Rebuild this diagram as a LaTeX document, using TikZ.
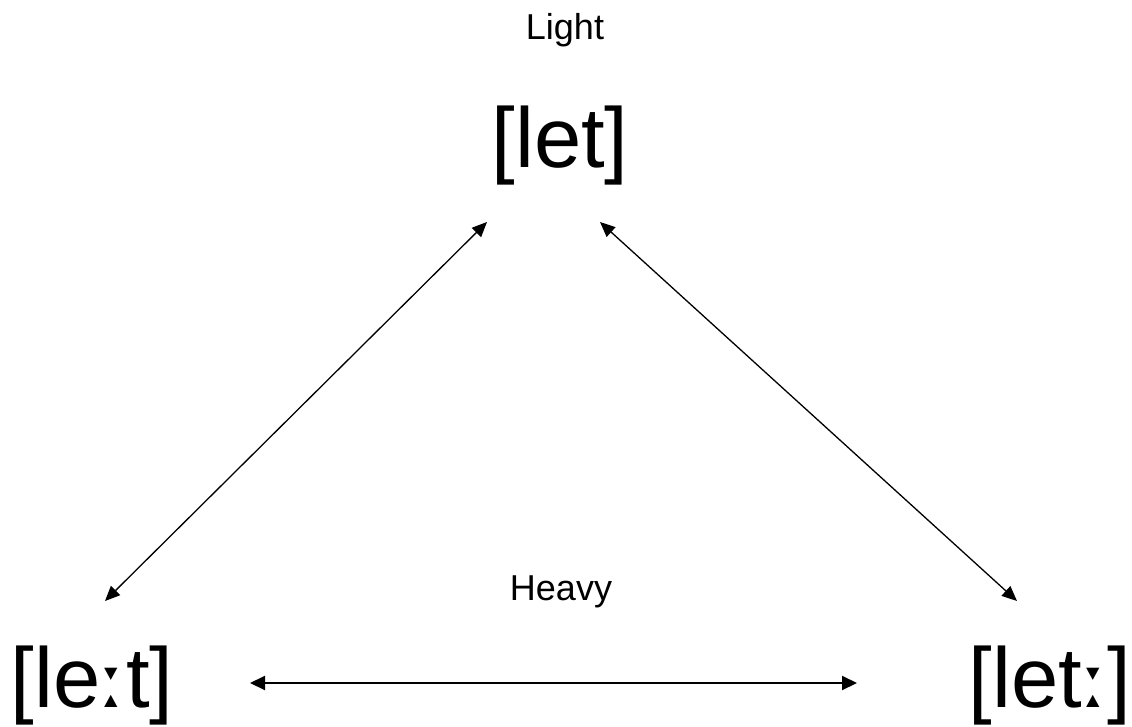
\documentclass[tikz,border=0pt]{standalone}
\usepackage{fontspec}
\setmainfont{Liberation Sans}
\newfontfamily\ipafont{DejaVu Sans}
\newcommand{\lengthmark}{{\ipafont\fontsize{76}{76}\selectfont ː}}
\usetikzlibrary{arrows.meta}
\begin{document}
\begin{tikzpicture}[x=1pt,y=-1pt,
  big/.style={font=\fontsize{85}{85}\selectfont, inner sep=0pt, anchor=base},
  small/.style={font=\fontsize{36}{36}\selectfont, inner sep=0pt, anchor=base},
  arr/.style={line width=1.3pt, {Triangle[length=15pt,width=13pt]}-{Triangle[length=15pt,width=13pt]}},
  harr/.style={line width=2pt, {Triangle[length=15pt,width=14pt]}-{Triangle[length=15pt,width=14pt]}}]
\useasboundingbox (0,0) rectangle (1132,727);
\node[small] (light) at (565,40) {Light};
\node[big] (let) at (560,168) {[let]};
\node[small] (heavy) at (561,600) {Heavy};
\node[big] (leet) at (92,707) {[le\lengthmark t]};
\node[big] (lett) at (1050,707) {[let\lengthmark]};
\coordinate (a1) at (487,222);
\coordinate (a2) at (105,601);
\coordinate (b1) at (600,222);
\coordinate (b2) at (1017,601);
\coordinate (c1) at (250,683);
\coordinate (c2) at (857,683);
\draw[arr] (a1) -- (a2);
\draw[arr] (b1) -- (b2);
\draw[harr] (c1) -- (c2);
\end{tikzpicture}
\end{document}
